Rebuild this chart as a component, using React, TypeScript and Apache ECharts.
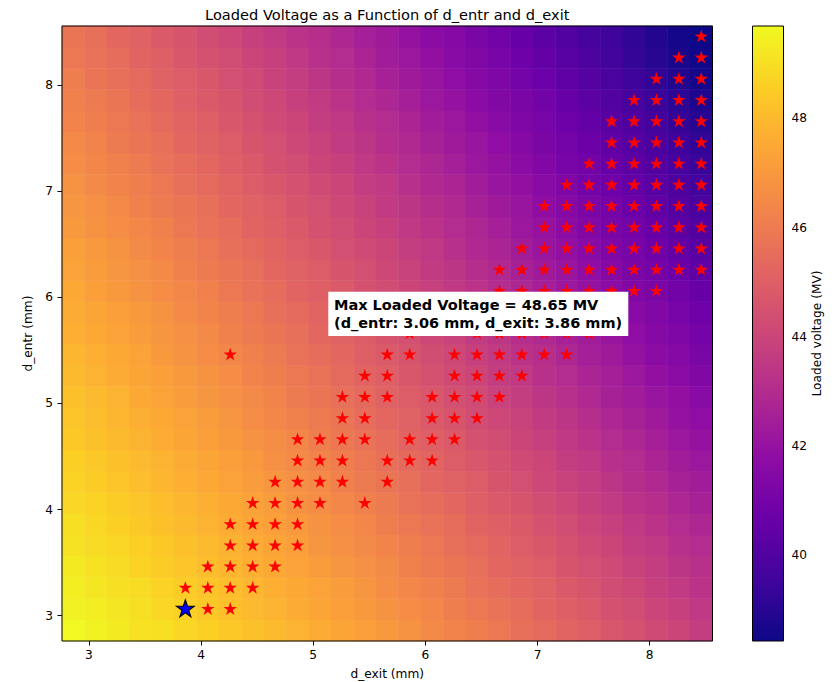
import React, { useEffect, useRef } from "react";
import * as echarts from "echarts";

// ---------------- data ----------------
const dExitValues = [
  2.86, 3.06, 3.26, 3.46, 3.66, 3.86, 4.06, 4.26, 4.46, 4.66, 4.86, 5.06, 5.26, 5.46, 5.66,
  5.86, 6.06, 6.26, 6.46, 6.66, 6.86, 7.06, 7.26, 7.46, 7.66, 7.86, 8.06, 8.26, 8.46,
];
const dEntrValues = [
  2.86, 3.06, 3.26, 3.46, 3.66, 3.86, 4.06, 4.26, 4.46, 4.66, 4.86, 5.06, 5.26, 5.46, 5.66,
  5.86, 6.06, 6.26, 6.46, 6.66, 6.86, 7.06, 7.26, 7.46, 7.66, 7.86, 8.06, 8.26, 8.46,
];

// loaded voltage (MV): one column per d_exit value, listed from d_entr = 2.86 upward
const voltageByExit: number[][] = [
  [49.69, 49.5, 49.4, 49.3, 49.1, 49.0, 48.8, 48.7, 48.6, 48.4, 48.3, 48.2, 48.0, 47.9, 47.7, 47.6, 47.5, 47.3, 47.2, 47.0, 46.9, 46.8, 46.6, 46.5, 46.3, 46.2, 46.1, 45.9, 45.8],
  [49.5, 49.4, 49.2, 49.1, 48.9, 48.8, 48.7, 48.5, 48.4, 48.2, 48.1, 48.0, 47.8, 47.7, 47.5, 47.4, 47.2, 47.1, 47.0, 46.8, 46.7, 46.5, 46.4, 46.3, 46.1, 46.0, 45.8, 45.7, 45.6],
  [49.3, 49.2, 49.0, 48.9, 48.8, 48.6, 48.5, 48.3, 48.2, 48.0, 47.9, 47.8, 47.6, 47.5, 47.3, 47.2, 47.0, 46.9, 46.8, 46.6, 46.5, 46.3, 46.2, 46.0, 45.9, 45.8, 45.6, 45.5, 45.3],
  [49.1, 49.0, 48.9, 48.7, 48.6, 48.4, 48.3, 48.1, 48.0, 47.8, 47.7, 47.5, 47.4, 47.3, 47.1, 47.0, 46.8, 46.7, 46.5, 46.4, 46.2, 46.1, 46.0, 45.8, 45.7, 45.5, 45.4, 45.2, 45.1],
  [49.0, 48.8, 48.7, 48.5, 48.4, 48.2, 48.1, 47.9, 47.8, 47.6, 47.5, 47.3, 47.2, 47.0, 46.9, 46.8, 46.6, 46.5, 46.3, 46.2, 46.0, 45.9, 45.7, 45.6, 45.4, 45.3, 45.1, 45.0, 44.8],
  [48.8, 48.65, 48.5, 48.3, 48.2, 48.0, 47.9, 47.7, 47.6, 47.4, 47.3, 47.1, 47.0, 46.8, 46.7, 46.5, 46.4, 46.2, 46.1, 45.9, 45.8, 45.6, 45.5, 45.3, 45.2, 45.0, 44.9, 44.7, 44.6],
  [48.6, 48.4, 48.3, 48.1, 48.0, 47.8, 47.7, 47.5, 47.4, 47.2, 47.1, 46.9, 46.8, 46.6, 46.5, 46.3, 46.2, 46.0, 45.9, 45.7, 45.6, 45.4, 45.3, 45.1, 45.0, 44.8, 44.7, 44.5, 44.3],
  [48.4, 48.2, 48.1, 47.9, 47.8, 47.6, 47.5, 47.3, 47.2, 47.0, 46.9, 46.7, 46.6, 46.4, 46.2, 46.1, 45.9, 45.8, 45.6, 45.5, 45.3, 45.2, 45.0, 44.9, 44.7, 44.6, 44.4, 44.3, 44.1],
  [48.2, 48.0, 47.9, 47.7, 47.6, 47.4, 47.3, 47.1, 47.0, 46.8, 46.6, 46.5, 46.3, 46.2, 46.0, 45.9, 45.7, 45.6, 45.4, 45.2, 45.1, 44.9, 44.8, 44.6, 44.5, 44.3, 44.2, 44.0, 43.8],
  [48.0, 47.8, 47.7, 47.5, 47.4, 47.2, 47.1, 46.9, 46.7, 46.6, 46.4, 46.3, 46.1, 46.0, 45.8, 45.6, 45.5, 45.3, 45.2, 45.0, 44.9, 44.7, 44.5, 44.4, 44.2, 44.1, 43.9, 43.8, 43.6],
  [47.8, 47.6, 47.5, 47.3, 47.2, 47.0, 46.8, 46.7, 46.5, 46.4, 46.2, 46.0, 45.9, 45.7, 45.6, 45.4, 45.2, 45.1, 44.9, 44.8, 44.6, 44.5, 44.3, 44.1, 44.0, 43.8, 43.7, 43.5, 43.3],
  [47.6, 47.4, 47.3, 47.1, 46.9, 46.8, 46.6, 46.5, 46.3, 46.1, 46.0, 45.8, 45.7, 45.5, 45.3, 45.2, 45.0, 44.9, 44.7, 44.5, 44.4, 44.2, 44.0, 43.9, 43.7, 43.6, 43.4, 43.2, 43.1],
  [47.4, 47.2, 47.1, 46.9, 46.7, 46.6, 46.4, 46.2, 46.1, 45.9, 45.8, 45.6, 45.4, 45.3, 45.1, 44.9, 44.8, 44.6, 44.4, 44.3, 44.1, 44.0, 43.8, 43.6, 43.5, 43.3, 43.1, 43.0, 42.8],
  [47.2, 47.0, 46.9, 46.7, 46.5, 46.4, 46.2, 46.0, 45.9, 45.7, 45.5, 45.4, 45.2, 45.0, 44.9, 44.7, 44.5, 44.4, 44.2, 44.0, 43.9, 43.7, 43.5, 43.4, 43.2, 43.0, 42.9, 42.7, 42.5],
  [47.0, 46.8, 46.6, 46.5, 46.3, 46.1, 46.0, 45.8, 45.6, 45.5, 45.3, 45.1, 45.0, 44.8, 44.6, 44.5, 44.3, 44.1, 44.0, 43.8, 43.6, 43.5, 43.3, 43.1, 43.0, 42.8, 42.6, 42.4, 42.3],
  [46.8, 46.6, 46.4, 46.2, 46.1, 45.9, 45.7, 45.6, 45.4, 45.2, 45.1, 44.9, 44.7, 44.6, 44.4, 44.2, 44.0, 43.9, 43.7, 43.5, 43.4, 43.2, 43.0, 42.9, 42.7, 42.5, 42.3, 42.2, 42.0],
  [46.5, 46.4, 46.2, 46.0, 45.9, 45.7, 45.5, 45.3, 45.2, 45.0, 44.8, 44.7, 44.5, 44.3, 44.1, 44.0, 43.8, 43.6, 43.5, 43.3, 43.1, 42.9, 42.8, 42.6, 42.4, 42.2, 42.1, 41.9, 41.7],
  [46.3, 46.1, 46.0, 45.8, 45.6, 45.5, 45.3, 45.1, 44.9, 44.8, 44.6, 44.4, 44.2, 44.1, 43.9, 43.7, 43.5, 43.4, 43.2, 43.0, 42.9, 42.7, 42.5, 42.3, 42.2, 42.0, 41.8, 41.6, 41.5],
  [46.1, 45.9, 45.7, 45.6, 45.4, 45.2, 45.0, 44.9, 44.7, 44.5, 44.3, 44.2, 44.0, 43.8, 43.6, 43.5, 43.3, 43.1, 42.9, 42.8, 42.6, 42.4, 42.2, 42.1, 41.9, 41.7, 41.5, 41.4, 41.2],
  [45.9, 45.7, 45.5, 45.3, 45.2, 45.0, 44.8, 44.6, 44.5, 44.3, 44.1, 43.9, 43.7, 43.6, 43.4, 43.2, 43.0, 42.9, 42.7, 42.5, 42.3, 42.1, 42.0, 41.8, 41.6, 41.4, 41.3, 41.1, 40.9],
  [45.6, 45.5, 45.3, 45.1, 44.9, 44.8, 44.6, 44.4, 44.2, 44.0, 43.9, 43.7, 43.5, 43.3, 43.1, 43.0, 42.8, 42.6, 42.4, 42.2, 42.1, 41.9, 41.7, 41.5, 41.3, 41.2, 41.0, 40.8, 40.6],
  [45.4, 45.2, 45.1, 44.9, 44.7, 44.5, 44.3, 44.1, 44.0, 43.8, 43.6, 43.4, 43.2, 43.1, 42.9, 42.7, 42.5, 42.3, 42.1, 42.0, 41.8, 41.6, 41.4, 41.2, 41.1, 40.9, 40.7, 40.5, 40.3],
  [45.2, 45.0, 44.8, 44.6, 44.5, 44.3, 44.1, 43.9, 43.7, 43.5, 43.4, 43.2, 43.0, 42.8, 42.6, 42.4, 42.2, 42.1, 41.9, 41.7, 41.5, 41.3, 41.1, 41.0, 40.8, 40.6, 40.4, 40.2, 40.0],
  [45.0, 44.8, 44.6, 44.4, 44.2, 44.0, 43.8, 43.7, 43.5, 43.3, 43.1, 42.9, 42.7, 42.5, 42.4, 42.2, 42.0, 41.8, 41.6, 41.4, 41.2, 41.0, 40.9, 40.7, 40.5, 40.3, 40.1, 39.9, 39.7],
  [44.7, 44.5, 44.3, 44.2, 44.0, 43.8, 43.6, 43.4, 43.2, 43.0, 42.8, 42.6, 42.5, 42.3, 42.1, 41.9, 41.7, 41.5, 41.3, 41.1, 41.0, 40.8, 40.6, 40.4, 40.2, 40.0, 39.8, 39.6, 39.5],
  [44.5, 44.3, 44.1, 43.9, 43.7, 43.5, 43.3, 43.1, 43.0, 42.8, 42.6, 42.4, 42.2, 42.0, 41.8, 41.6, 41.4, 41.2, 41.1, 40.9, 40.7, 40.5, 40.3, 40.1, 39.9, 39.7, 39.5, 39.3, 39.2],
  [44.2, 44.0, 43.8, 43.7, 43.5, 43.3, 43.1, 42.9, 42.7, 42.5, 42.3, 42.1, 41.9, 41.7, 41.5, 41.4, 41.2, 41.0, 40.8, 40.6, 40.4, 40.2, 40.0, 39.8, 39.6, 39.4, 39.2, 39.0, 38.9],
  [44.0, 43.8, 43.6, 43.4, 43.2, 43.0, 42.8, 42.6, 42.4, 42.2, 42.0, 41.9, 41.7, 41.5, 41.3, 41.1, 40.9, 40.7, 40.5, 40.3, 40.1, 39.9, 39.7, 39.5, 39.3, 39.1, 38.9, 38.7, 38.6],
  [43.7, 43.5, 43.3, 43.2, 43.0, 42.8, 42.6, 42.4, 42.2, 42.0, 41.8, 41.6, 41.4, 41.2, 41.0, 40.8, 40.6, 40.4, 40.2, 40.0, 39.8, 39.6, 39.4, 39.2, 39.0, 38.8, 38.6, 38.5, 38.43],
];

// (d_exit, d_entr) combinations marked with red stars, grouped by d_entr
const feasibleRows: { dEntr: number; dExit: number[] }[] = [
  { dEntr: 3.06, dExit: [4.06, 4.26] },
  { dEntr: 3.26, dExit: [3.86, 4.06, 4.26, 4.46] },
  { dEntr: 3.46, dExit: [4.06, 4.26, 4.46, 4.66] },
  { dEntr: 3.66, dExit: [4.26, 4.46, 4.66, 4.86] },
  { dEntr: 3.86, dExit: [4.26, 4.46, 4.66, 4.86] },
  { dEntr: 4.06, dExit: [4.46, 4.66, 4.86, 5.06, 5.46] },
  { dEntr: 4.26, dExit: [4.66, 4.86, 5.06, 5.26, 5.66] },
  { dEntr: 4.46, dExit: [4.86, 5.06, 5.26, 5.66, 5.86, 6.06] },
  { dEntr: 4.66, dExit: [4.86, 5.06, 5.26, 5.46, 5.86, 6.06, 6.26] },
  { dEntr: 4.86, dExit: [5.26, 5.46, 6.06, 6.26, 6.46] },
  { dEntr: 5.06, dExit: [5.26, 5.46, 5.66, 6.06, 6.26, 6.46, 6.66] },
  { dEntr: 5.26, dExit: [5.46, 5.66, 6.26, 6.46, 6.66, 6.86] },
  { dEntr: 5.46, dExit: [4.26, 5.66, 5.86, 6.26, 6.46, 6.66, 6.86, 7.06, 7.26] },
  { dEntr: 5.66, dExit: [5.86, 6.46, 6.66, 6.86, 7.06, 7.26, 7.46] },
  { dEntr: 5.86, dExit: [6.46, 6.66, 6.86, 7.06, 7.26, 7.46, 7.66] },
  { dEntr: 6.06, dExit: [6.66, 6.86, 7.06, 7.26, 7.46, 7.66, 7.86, 8.06] },
  { dEntr: 6.26, dExit: [6.66, 6.86, 7.06, 7.26, 7.46, 7.66, 7.86, 8.06, 8.26, 8.46] },
  { dEntr: 6.46, dExit: [6.86, 7.06, 7.26, 7.46, 7.66, 7.86, 8.06, 8.26, 8.46] },
  { dEntr: 6.66, dExit: [7.06, 7.26, 7.46, 7.66, 7.86, 8.06, 8.26, 8.46] },
  { dEntr: 6.86, dExit: [7.06, 7.26, 7.46, 7.66, 7.86, 8.06, 8.26, 8.46] },
  { dEntr: 7.06, dExit: [7.26, 7.46, 7.66, 7.86, 8.06, 8.26, 8.46] },
  { dEntr: 7.26, dExit: [7.46, 7.66, 7.86, 8.06, 8.26, 8.46] },
  { dEntr: 7.46, dExit: [7.66, 7.86, 8.06, 8.26, 8.46] },
  { dEntr: 7.66, dExit: [7.66, 7.86, 8.06, 8.26, 8.46] },
  { dEntr: 7.86, dExit: [7.86, 8.06, 8.26, 8.46] },
  { dEntr: 8.06, dExit: [8.06, 8.26, 8.46] },
  { dEntr: 8.26, dExit: [8.26, 8.46] },
  { dEntr: 8.46, dExit: [8.46] },
];

const maxPoint = { dExit: 3.86, dEntr: 3.06, voltage: 48.65 };

const axisTicks = [3, 4, 5, 6, 7, 8];
const colorbarTicks = [40, 42, 44, 46, 48];
const axisRange = [2.76, 8.56];
const voltageRange = [38.43, 49.69];

const plasma = [
  "#0d0887", "#41049d", "#6a00a8", "#8f0da4", "#b12a90", "#cc4778",
  "#e16462", "#f2844b", "#fca636", "#fcce25", "#f0f921",
];

// ---------------- layout / style ----------------
const FONT = "'DejaVu Sans', 'Liberation Sans', sans-serif";
const PLOT = { left: 62, top: 26, width: 650.5, height: 615 };
const CBAR = { left: 752.5, top: 26, width: 31, height: 615 };
const STAR =
  "path://M100,0L122.45,69.1L195.11,69.1L136.33,111.8L158.78,180.9L100,138.2L41.22,180.9L63.67,111.8L4.89,69.1L77.55,69.1Z";

const labelStyle = { color: "#000", fontSize: 12.2, fontFamily: FONT };

export default function App() {
  const ref = useRef<HTMLDivElement>(null);

  useEffect(() => {
    if (!ref.current) return;
    const chart = echarts.init(ref.current, null, { renderer: "svg" });

    const heatData: number[][] = [];
    voltageByExit.forEach((col, i) => col.forEach((v, j) => heatData.push([i, j, v])));

    const starData: number[][] = [];
    feasibleRows.forEach((r) => r.dExit.forEach((x) => starData.push([x, r.dEntr])));

    const annotation =
      `Max Loaded Voltage = ${maxPoint.voltage.toFixed(2)} MV\n` +
      `(d_entr: ${maxPoint.dEntr.toFixed(2)} mm, d_exit: ${maxPoint.dExit.toFixed(2)} mm)`;

    chart.setOption({
      animation: false,
      backgroundColor: "#fff",
      grid: [
        { ...PLOT, containLabel: false, outerBoundsMode: "none" },
        { ...CBAR, containLabel: false, outerBoundsMode: "none" },
      ],
      xAxis: [
        {
          type: "category",
          gridIndex: 0,
          data: dExitValues.map((v) => v.toFixed(2)),
          show: false,
        },
        {
          type: "value",
          gridIndex: 0,
          min: axisRange[0],
          max: axisRange[1],
          position: "bottom",
          axisLine: { show: false },
          splitLine: { show: false },
          axisTick: { show: true, length: 4.5, lineStyle: { color: "#000", width: 1 }, customValues: axisTicks },
          axisLabel: { ...labelStyle, margin: 8, customValues: axisTicks },
          name: "d_exit (mm)",
          nameLocation: "middle",
          nameGap: 27,
          nameTextStyle: labelStyle,
        },
        { type: "value", gridIndex: 1, min: 0, max: 1, show: false },
      ],
      yAxis: [
        {
          type: "category",
          gridIndex: 0,
          data: dEntrValues.map((v) => v.toFixed(2)),
          show: false,
        },
        {
          type: "value",
          gridIndex: 0,
          min: axisRange[0],
          max: axisRange[1],
          position: "left",
          axisLine: { show: false },
          splitLine: { show: false },
          axisTick: { show: true, length: 4.5, lineStyle: { color: "#000", width: 1 }, customValues: axisTicks },
          axisLabel: { ...labelStyle, margin: 9, customValues: axisTicks },
          name: "d_entr (mm)",
          nameLocation: "middle",
          nameRotate: 90,
          nameGap: 18,
          nameTextStyle: labelStyle,
        },
        {
          type: "value",
          gridIndex: 1,
          min: voltageRange[0],
          max: voltageRange[1],
          position: "right",
          axisLine: { show: false },
          splitLine: { show: false },
          axisTick: { show: true, length: 4.5, lineStyle: { color: "#000", width: 1 }, customValues: colorbarTicks },
          axisLabel: { ...labelStyle, margin: 8, customValues: colorbarTicks },
          name: "Loaded voltage (MV)",
          nameLocation: "middle",
          nameRotate: 90,
          nameGap: 26,
          nameTextStyle: labelStyle,
        },
      ],
      visualMap: {
        type: "continuous",
        show: false,
        min: voltageRange[0],
        max: voltageRange[1],
        dimension: 2,
        seriesIndex: 0,
        inRange: { color: plasma },
      },
      series: [
        {
          type: "heatmap",
          xAxisIndex: 0,
          yAxisIndex: 0,
          data: heatData,
          silent: true,
          z: 1,
        },
        {
          type: "scatter",
          xAxisIndex: 1,
          yAxisIndex: 1,
          data: starData,
          symbol: STAR,
          symbolSize: [13.5, 12.8],
          symbolOffset: [0, "-5.3%"],
          itemStyle: { color: "#ff0000", opacity: 1 },
          silent: true,
          z: 3,
        },
        {
          type: "scatter",
          xAxisIndex: 1,
          yAxisIndex: 1,
          data: [[maxPoint.dExit, maxPoint.dEntr]],
          symbol: STAR,
          symbolSize: [18, 17.1],
          symbolOffset: [0, "-5.3%"],
          itemStyle: { color: "#0000ff", borderColor: "#000", borderWidth: 1, opacity: 1 },
          silent: true,
          z: 4,
        },
      ],
      graphic: [
        {
          type: "rect",
          z: 100,
          silent: true,
          shape: { x: PLOT.left, y: PLOT.top, width: PLOT.width, height: PLOT.height },
          style: { fill: "none", stroke: "#000", lineWidth: 1 },
        },
        {
          type: "rect",
          z: 50,
          silent: true,
          shape: { x: CBAR.left, y: CBAR.top, width: CBAR.width, height: CBAR.height },
          style: {
            fill: {
              type: "linear",
              x: 0,
              y: 1,
              x2: 0,
              y2: 0,
              colorStops: plasma.map((c, k) => ({ offset: k / (plasma.length - 1), color: c })),
            },
            stroke: "#000",
            lineWidth: 1,
          },
        },
        {
          type: "text",
          z: 100,
          silent: true,
          x: PLOT.left + PLOT.width / 2,
          y: 14.5,
          style: {
            text: "Loaded Voltage as a Function of d_entr and d_exit",
            fill: "#000",
            font: `14.6px ${FONT}`,
            align: "center",
            verticalAlign: "middle",
          },
        },
        {
          type: "rect",
          z: 110,
          silent: true,
          shape: { x: 328.3, y: 291.7, width: 300, height: 44.3 },
          style: { fill: "#fff", stroke: "none" },
        },
        {
          type: "text",
          z: 111,
          silent: true,
          x: 334,
          y: 313.8,
          style: {
            text: annotation,
            fill: "#000",
            font: `bold 14.5px ${FONT}`,
            lineHeight: 18.4,
            align: "left",
            verticalAlign: "middle",
          },
        },
      ],
    });

    return () => chart.dispose();
  }, []);

  return (
    <div
      ref={ref}
      style={{ position: "fixed", left: 0, top: 0, width: 834, height: 682, background: "#fff" }}
    />
  );
}
